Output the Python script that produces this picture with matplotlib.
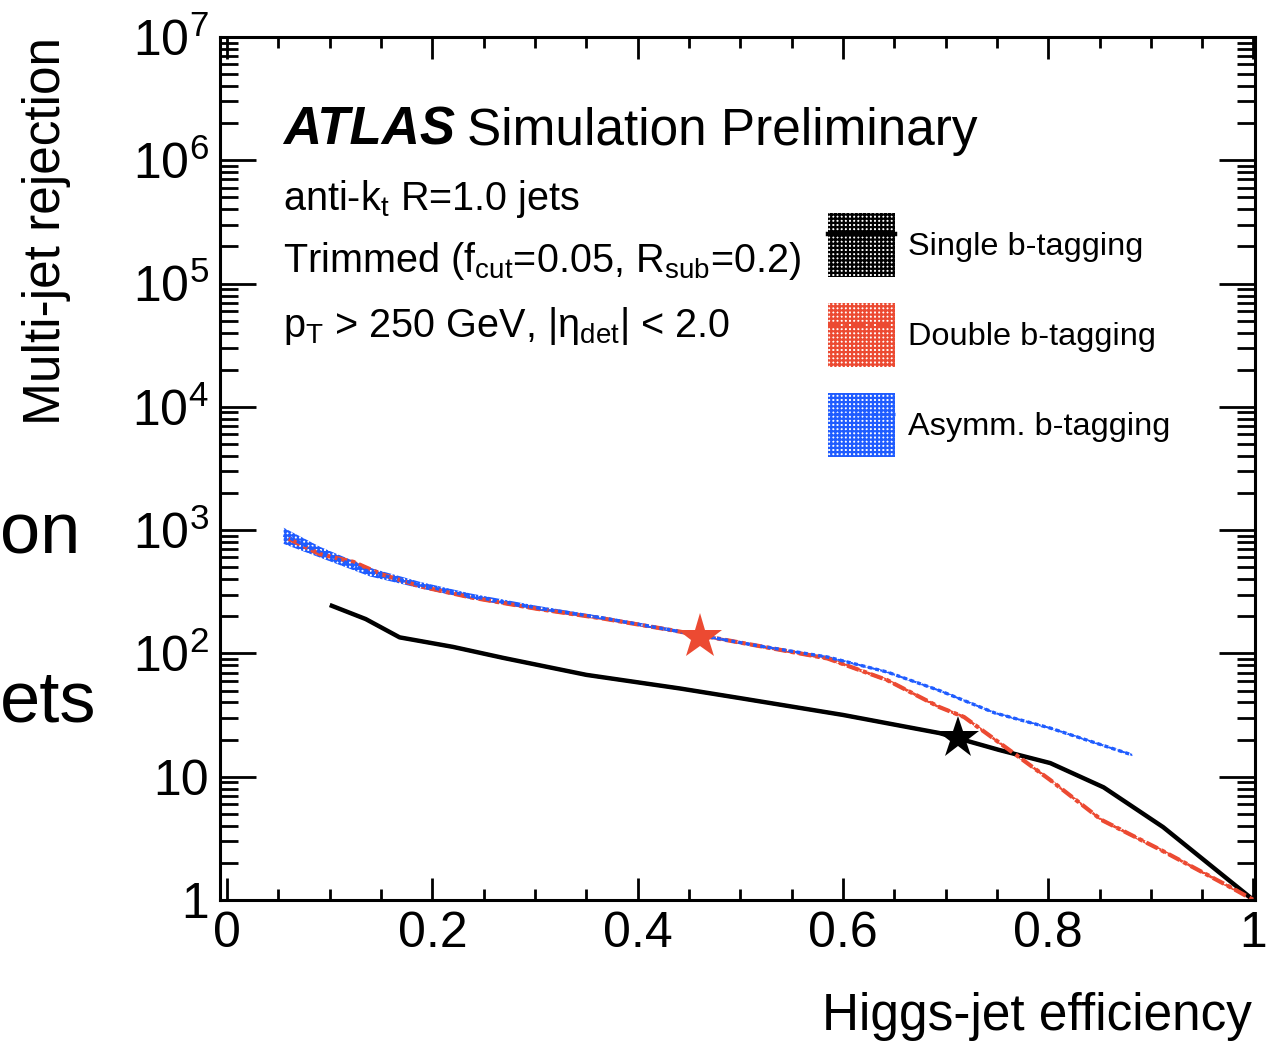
import matplotlib
matplotlib.use("Agg")
import matplotlib.pyplot as plt
from matplotlib.patches import Patch
from matplotlib.lines import Line2D
from matplotlib.ticker import FixedLocator, FixedFormatter, MultipleLocator, LogLocator, NullFormatter
import numpy as np

plt.rcParams['font.family'] = ['Liberation Sans', 'DejaVu Sans']
plt.rcParams['mathtext.fontset'] = 'custom'
plt.rcParams['mathtext.rm'] = 'Liberation Sans'
plt.rcParams['mathtext.it'] = 'Liberation Sans:italic'
plt.rcParams['mathtext.bf'] = 'Liberation Sans:bold'
plt.rcParams['hatch.linewidth'] = 1.6

# data
single_x = [0.100, 0.135, 0.168, 0.220, 0.269, 0.350, 0.441, 0.499, 0.600, 0.694, 0.752, 0.802, 0.854, 0.912, 1.000]
single_y = [247, 190, 135, 113, 92, 67, 52, 43.5, 31.7, 22.6, 16.5, 12.9, 8.2, 3.9, 1.0]

double_x = [0.060, 0.090, 0.123, 0.150, 0.188, 0.237, 0.302, 0.366, 0.432, 0.513, 0.585, 0.643, 0.694, 0.718,
            0.766, 0.802, 0.852, 0.910, 0.983, 1.000]
double_y = [850, 640, 553, 440, 350, 285, 230, 192, 155, 117, 91, 60.8, 36.7, 30.5, 15.6, 9.4, 4.46, 2.54, 1.2, 1.0]

asymm_x = [0.055, 0.0906, 0.139, 0.188, 0.237, 0.302, 0.366, 0.432, 0.513, 0.585, 0.643, 0.694, 0.748, 0.802, 0.882]
asymm_y = [910, 665, 458, 359, 292, 234, 194, 155, 117, 93.5, 70.7, 50, 32.9, 24.8, 15]
asymm_err = [0.15, 0.10, 0.08, 0.06, 0.05, 0.04, 0.03, 0.03, 0.02, 0.02, 0.02, 0.02, 0.02, 0.02, 0.02]

# working points (stars)
star_double = (0.461, 136)
star_single = (0.712, 20.6)

xtick_vals = [0, 0.2, 0.4, 0.6, 0.8, 1.0]
xtick_labels = ['0', '0.2', '0.4', '0.6', '0.8', '1']
ytick_vals = [1, 10, 1e2, 1e3, 1e4, 1e5, 1e6, 1e7]
ytick_labels = ['1', '10', '$10^2$', '$10^3$', '$10^4$', '$10^5$', '$10^6$', '$10^7$']

RED = '#ec4a32'
BLUE = '#1f5cff'

fig = plt.figure(figsize=(12.81, 10.46), dpi=100)
ax = fig.add_axes([220 / 1281, 1 - 900 / 1046, 1035 / 1281, 863 / 1046])
ax.set_yscale('log')
ax.set_xlim(-0.007, 1.0015)
ax.set_ylim(1, 1e7)

# bands
sy = np.array(single_y)
ax.fill_between(single_x, sy * 0.97, sy * 1.03, facecolor='none', edgecolor='black', hatch='++++', lw=0)
dy = np.array(double_y)
ax.fill_between(double_x, dy * 0.97, dy * 1.03, facecolor='none', edgecolor=RED, hatch='++++', lw=0)
ay = np.array(asymm_y)
ae = np.array(asymm_err)
ax.fill_between(asymm_x, ay * (1 - ae), ay * (1 + ae), facecolor='none', edgecolor=BLUE, hatch='++++', lw=0)

# curves
ax.plot(single_x, single_y, color='black', lw=3.2, solid_capstyle='butt')
ax.plot(double_x, double_y, color=RED, lw=3.0, dashes=(3, 1, 1, 1))
ax.plot(asymm_x, asymm_y, color=BLUE, lw=2.4, dashes=(1.2, 1.0))

ax.plot(*star_double, marker='*', color=RED, markersize=34, markeredgewidth=0, zorder=5)
ax.plot(*star_single, marker='*', color='black', markersize=32, markeredgewidth=0, zorder=5)

# axes styling
for s in ax.spines.values():
    s.set_linewidth(2.2)
ax.xaxis.set_major_locator(FixedLocator(xtick_vals))
ax.xaxis.set_major_formatter(FixedFormatter(xtick_labels))
ax.xaxis.set_minor_locator(MultipleLocator(0.05))
ax.yaxis.set_major_locator(FixedLocator(ytick_vals))
ax.yaxis.set_major_formatter(FixedFormatter(ytick_labels))
ax.yaxis.set_minor_locator(LogLocator(base=10, subs=np.arange(2, 10), numticks=20))
ax.yaxis.set_minor_formatter(NullFormatter())
ax.tick_params(which='both', direction='in', top=True, right=True, width=2.0, labelsize=36)
ax.tick_params(axis='x', which='major', length=16, pad=8)
ax.tick_params(axis='x', which='minor', length=8)
ax.tick_params(axis='y', which='major', length=26, pad=8)
ax.tick_params(axis='y', which='minor', length=13)

# labels
fig.text(47 / 1281, 1 - 37 / 1046, 'Multi-jet rejection', rotation=90, ha='center', va='top', fontsize=37)
fig.text(1252 / 1281, 1 - 1030 / 1046, 'Higgs-jet efficiency', ha='right', va='baseline', fontsize=37)

# text fragments at the left edge
fig.text(0, 1 - 553 / 1046, 'on', ha='left', va='baseline', fontsize=52)
fig.text(0, 1 - 722 / 1046, 'ets', ha='left', va='baseline', fontsize=52)

# annotations
ax.text(0.061, 0.875, 'ATLAS', transform=ax.transAxes, fontsize=38, fontweight='bold', fontstyle='italic', va='baseline')
ax.text(0.2386, 0.875, 'Simulation Preliminary', transform=ax.transAxes, fontsize=37, va='baseline')
ax.text(0.061, 0.80, 'anti-k$_{\\mathrm{t}}$ R=1.0 jets', transform=ax.transAxes, fontsize=28.5, va='baseline')
ax.text(0.061, 0.728, 'Trimmed (f$_{\\mathrm{cut}}$=0.05, R$_{\\mathrm{sub}}$=0.2)', transform=ax.transAxes,
        fontsize=28.5, va='baseline')
ax.text(0.061, 0.652, 'p$_{\\mathrm{T}}$ > 250 GeV, |$\\mathrm{\\eta}_{\\mathrm{det}}$| < 2.0', transform=ax.transAxes,
        fontsize=28.5, va='baseline')

# legend
handles = [
    (Patch(facecolor='none', edgecolor='black', hatch='++++', lw=0), Line2D([], [], color='black', lw=3.2)),
    (Patch(facecolor='none', edgecolor=RED, hatch='++++', lw=0), Line2D([], [], color=RED, lw=3.0, dashes=(3, 1, 1, 1))),
    (Patch(facecolor='none', edgecolor=BLUE, hatch='++++', lw=0), Line2D([], [], color=BLUE, lw=2.4, dashes=(1.2, 1.0))),
]
labels = ['Single b-tagging', 'Double b-tagging', 'Asymm. b-tagging']
ax.legend(handles, labels, loc='upper left', bbox_to_anchor=((828 - 220) / 1035, (900 - 213) / 863),
          frameon=False, fontsize=23.4, handlelength=2.05, handleheight=2.65, labelspacing=0.8,
          handletextpad=0.4, borderpad=0, borderaxespad=0)

fig.savefig('out.png', dpi=100)
